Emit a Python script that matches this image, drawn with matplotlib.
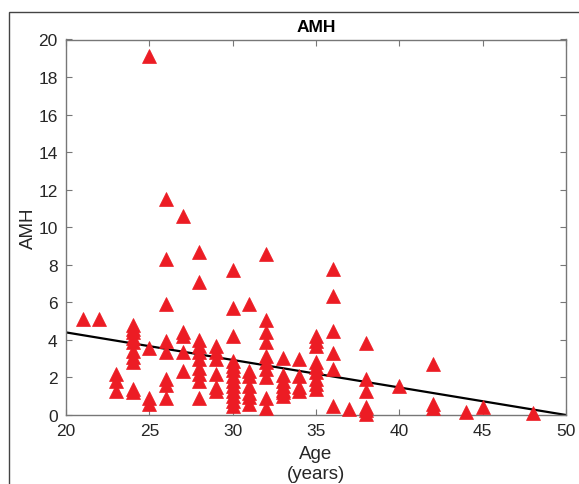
import numpy as np
import matplotlib
matplotlib.use("Agg")
import matplotlib.pyplot as plt
from matplotlib.patches import Rectangle

plt.rcParams["font.family"] = ["Liberation Sans", "DejaVu Sans"]

# AMH values, grouped by age (years)
amh_by_age = {
    21: [5.1],
    22: [5.1],
    23: [2.2, 1.8, 1.3],
    24: [4.8, 4.6, 4.4, 4.1, 3.9, 3.4, 3.1, 2.8, 1.4, 1.2],
    25: [19.1, 3.55, 0.9, 0.6],
    26: [11.5, 8.3, 5.9, 3.95, 3.35, 1.9, 1.6, 0.9],
    27: [10.6, 4.4, 4.2, 3.35, 2.35],
    28: [8.7, 7.1, 4.0, 3.7, 3.35, 3.0, 2.5, 2.2, 1.8, 0.9],
    29: [3.7, 3.35, 3.0, 2.2, 1.5, 1.3],
    30: [7.7, 5.7, 4.2, 2.9, 2.6, 2.4, 2.1, 1.8, 1.55, 1.3, 1.0, 0.75, 0.5],
    31: [5.9, 2.35, 2.1, 1.55, 1.15, 0.95, 0.6],
    32: [8.55, 5.05, 4.4, 3.9, 3.15, 2.8, 2.45, 2.05, 0.9, 0.35],
    33: [3.05, 2.15, 1.8, 1.55, 1.35, 1.2, 1.0],
    34: [3.0, 2.1, 1.5, 1.3],
    35: [4.2, 3.95, 3.7, 2.8, 2.55, 2.3, 1.9, 1.65, 1.4],
    36: [7.75, 6.35, 4.5, 3.3, 2.45, 0.5],
    37: [0.3],
    38: [3.85, 1.9, 1.3, 0.45, 0.25, 0.05],
    40: [1.55],
    42: [2.7, 0.6, 0.35],
    44: [0.15],
    45: [0.4],
    48: [0.1],
}
age = [a for a, vals in amh_by_age.items() for _ in vals]
amh = [v for vals in amh_by_age.values() for v in vals]

# fitted line as drawn (end values)
fit_age = [20, 50]
fit_amh = [4.4, 0.0]

x_ticks = [20, 25, 30, 35, 40, 45, 50]
y_ticks = [0, 2, 4, 6, 8, 10, 12, 14, 16, 18, 20]

W, H = 579, 485
fig = plt.figure(figsize=(W / 100, H / 100), dpi=100)

# grey frame of the (cropped) figure window
fig.patches.append(Rectangle((9 / W, -0.1), 1.2, 1 - 13 / H + 0.1,
                             transform=fig.transFigure, fill=False,
                             edgecolor="#444444", linewidth=1.0))

ax = fig.add_axes([66 / W, 1 - 416 / H, 500 / W, 375.5 / H])

ax.plot(fit_age, fit_amh, color="black", linewidth=1.6, zorder=2)
ax.plot(age, amh, linestyle="none", marker="^", markersize=9.5,
        markerfacecolor="#ec1c24", markeredgecolor="#ec1c24",
        markeredgewidth=0.5, clip_on=False, zorder=3)

ax.set_xlim(20, 50)
ax.set_ylim(0, 20)
ax.set_xticks(x_ticks)
ax.set_yticks(y_ticks)
ax.tick_params(direction="in", length=4, width=0.8, top=True, right=True,
               labelsize=12.5, colors="#262626", pad=6)
ax.tick_params(axis="both", which="both", color="#777777")
for sp in ax.spines.values():
    sp.set_color("#777777")
    sp.set_linewidth(1.0)

ax.set_title("AMH", fontsize=12.5, fontweight="bold", pad=6)
ax.set_xlabel("Age\n(years)", fontsize=13.5, color="#262626", labelpad=5,
              linespacing=1.2)
ax.set_ylabel("AMH", fontsize=13.5, color="#262626", labelpad=1)

fig.savefig("out.png", dpi=100)
